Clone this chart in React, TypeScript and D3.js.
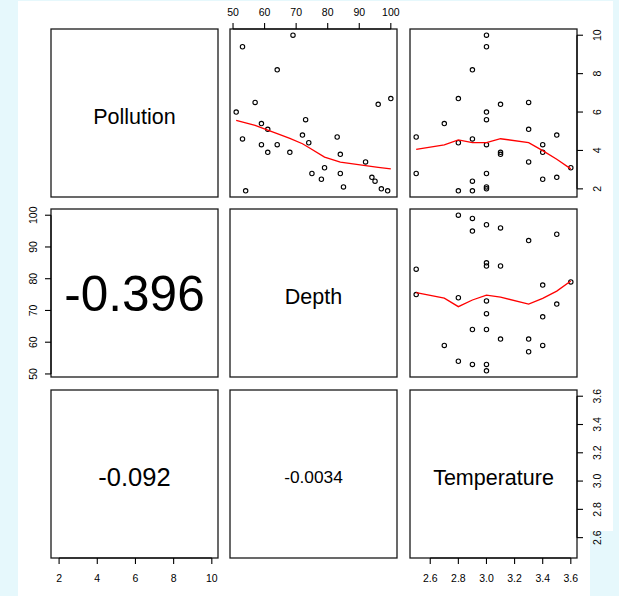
import React, { useRef, useEffect } from "react";
import * as d3 from "d3";

const variables = ["Pollution", "Depth", "Temperature"];
const pollution = [10.0, 9.4, 8.2, 6.5, 6.0, 6.4, 6.7, 5.6, 5.4, 5.1, 4.8, 4.7, 4.6, 4.4, 4.3, 4.3, 3.9, 3.9, 3.8, 3.4, 2.8, 2.8, 3.1, 2.5, 2.1, 2.6, 2.4, 2.0, 1.9, 1.9];
const depth = [69, 53, 64, 57, 51, 96, 100, 73, 59, 61, 72, 83, 53, 74, 59, 64, 61, 68, 84, 92, 75, 84, 79, 78, 85, 94, 95, 97, 99, 54];
const temperature = [3.0, 3.0, 2.9, 3.3, 3.0, 3.1, 2.8, 3.0, 2.7, 3.3, 3.5, 2.5, 2.9, 2.8, 3.4, 3.0, 3.1, 3.4, 3.1, 3.3, 2.5, 3.0, 3.6, 3.4, 3.0, 3.5, 2.9, 3.0, 2.9, 2.8];

// red smoother lines
const smoothDepthX = [51, 54, 57, 61, 64, 68, 72, 74, 79, 84, 92, 96, 100];
const smoothPollutionByDepth = [5.57, 5.44, 5.31, 5.06, 4.88, 4.63, 4.35, 4.15, 3.65, 3.39, 3.21, 3.12, 3.04];
const smoothTempX = [2.5, 2.7, 2.8, 2.9, 3.0, 3.1, 3.3, 3.4, 3.5, 3.6];
const smoothPollutionByTemp = [4.06, 4.29, 4.55, 4.41, 4.41, 4.61, 4.41, 3.99, 3.54, 3.04];
const smoothDepthByTemp = [75.6, 73.9, 71.2, 73.3, 74.8, 74.2, 72.0, 73.8, 76.1, 79.3];

// correlations shown in the lower panels
const corLabels = ["-0.396", "-0.092", "-0.0034"];
const corCells = [[1, 0], [2, 0], [2, 1]];
const corSizes = [49.5, 25.5, 17.3];

const pollutionTicks = [2, 4, 6, 8, 10];
const depthTicks = [50, 60, 70, 80, 90, 100];
const temperatureTicks = [2.6, 2.8, 3.0, 3.2, 3.4, 3.6];

const FONT = "'Liberation Sans', Arial, Helvetica, sans-serif";

export default function App() {
	const ref = useRef<SVGSVGElement>(null);

	useEffect(() => {
		const svg = d3.select(ref.current);
		svg.selectAll("*").remove();

		const data = [pollution, depth, temperature];
		const colX = [51, 230, 410];
		const rowY = [29, 209, 390];
		const pw = 167,
			ph = 168;

		const padded = (v: number[]) => {
			const [a, b] = d3.extent(v) as [number, number];
			const r = b - a;
			return [a - 0.04 * r, b + 0.04 * r];
		};
		const xs = data.map((v, j) =>
			d3.scaleLinear().domain(padded(v)).range([colX[j], colX[j] + pw])
		);
		const ys = data.map((v, i) =>
			d3.scaleLinear().domain(padded(v)).range([rowY[i] + ph, rowY[i]])
		);

		// background
		svg.append("rect").attr("width", 619).attr("height", 596).attr("fill", "#e6f8fc");
		svg.append("rect").attr("x", 18).attr("y", 1).attr("width", 595).attr("height", 530).attr("fill", "#fff");
		svg.append("rect").attr("x", 18).attr("y", 530).attr("width", 572).attr("height", 66).attr("fill", "#fff");

		const smooth: Record<string, [number[], number[]]> = {
			"0-1": [smoothDepthX, smoothPollutionByDepth],
			"0-2": [smoothTempX, smoothPollutionByTemp],
			"1-2": [smoothTempX, smoothDepthByTemp],
		};

		for (let i = 0; i < 3; i++) {
			for (let j = 0; j < 3; j++) {
				const g = svg.append("g");
				if (i < j) {
					g.selectAll("circle")
						.data(d3.range(data[0].length))
						.enter()
						.append("circle")
						.attr("cx", (k) => xs[j](data[j][k]))
						.attr("cy", (k) => ys[i](data[i][k]))
						.attr("r", 2.2)
						.attr("fill", "none")
						.attr("stroke", "#000")
						.attr("stroke-width", 1.1);
					const [sx, sy] = smooth[i + "-" + j];
					const line = d3
						.line<number>()
						.x((k) => xs[j](sx[k]))
						.y((k) => ys[i](sy[k]));
					g.append("path")
						.attr("d", line(d3.range(sx.length)))
						.attr("fill", "none")
						.attr("stroke", "#ff0000")
						.attr("stroke-width", 1.3);
				}
				if (i === j) {
					const fs = 21.5;
					g.append("text")
						.attr("x", colX[j] + pw / 2)
						.attr("y", rowY[i] + ph / 2 + fs * 0.358 + 3)
						.attr("text-anchor", "middle")
						.attr("font-family", FONT)
						.attr("font-size", fs)
						.text(variables[i]);
				}
				g.append("rect")
					.attr("x", colX[j])
					.attr("y", rowY[i])
					.attr("width", pw)
					.attr("height", ph)
					.attr("fill", "none")
					.attr("stroke", "#1a1a1a")
					.attr("stroke-width", 1.3);
			}
		}

		corLabels.forEach((txt, k) => {
			const [i, j] = corCells[k];
			const fs = corSizes[k];
			svg.append("text")
				.attr("x", colX[j] + pw / 2)
				.attr("y", rowY[i] + ph / 2 + fs * 0.358 + (k === 0 ? 0 : 3))
				.attr("text-anchor", "middle")
				.attr("font-family", FONT)
				.attr("font-size", fs)
				.text(txt);
		});

		const fmt = (v: number, t: number[]) => (t === temperatureTicks ? d3.format(".1f")(v) : String(v));
		const tickLen = 6;
		const axisG = svg.append("g").attr("font-family", FONT).attr("font-size", 10.5).attr("fill", "#000");

		// horizontal axes: [column, ticks, side]
		const hAxes: [number, number[], string][] = [
			[1, depthTicks, "top"],
			[0, pollutionTicks, "bottom"],
			[2, temperatureTicks, "bottom"],
		];
		hAxes.forEach(([j, ticks, side]) => {
			const y0 = side === "top" ? rowY[0] : rowY[2] + ph;
			const dir = side === "top" ? -1 : 1;
			axisG.append("line")
				.attr("x1", xs[j](ticks[0])).attr("x2", xs[j](ticks[ticks.length - 1]))
				.attr("y1", y0).attr("y2", y0)
				.attr("stroke", "#000").attr("stroke-width", 1.1);
			ticks.forEach((t) => {
				axisG.append("line")
					.attr("x1", xs[j](t)).attr("x2", xs[j](t))
					.attr("y1", y0).attr("y2", y0 + dir * tickLen)
					.attr("stroke", "#000").attr("stroke-width", 1.1);
				axisG.append("text")
					.attr("x", xs[j](t))
					.attr("y", side === "top" ? y0 - 13 : y0 + 24)
					.attr("text-anchor", "middle")
					.text(fmt(t, ticks));
			});
		});

		// vertical axes: [row, ticks, side]
		const vAxes: [number, number[], string][] = [
			[0, pollutionTicks, "right"],
			[1, depthTicks, "left"],
			[2, temperatureTicks, "right"],
		];
		vAxes.forEach(([i, ticks, side]) => {
			const x0 = side === "left" ? colX[0] : colX[2] + pw;
			const dir = side === "left" ? -1 : 1;
			axisG.append("line")
				.attr("y1", ys[i](ticks[0])).attr("y2", ys[i](ticks[ticks.length - 1]))
				.attr("x1", x0).attr("x2", x0)
				.attr("stroke", "#000").attr("stroke-width", 1.1);
			ticks.forEach((t) => {
				const y = ys[i](t);
				axisG.append("line")
					.attr("x1", x0).attr("x2", x0 + dir * tickLen)
					.attr("y1", y).attr("y2", y)
					.attr("stroke", "#000").attr("stroke-width", 1.1);
				const lx = side === "left" ? x0 - 14 : x0 + 24;
				axisG.append("text")
					.attr("transform", `translate(${lx},${y}) rotate(-90)`)
					.attr("text-anchor", "middle")
					.text(fmt(t, ticks));
			});
		});
	}, []);

	return (
		<div style={{ position: "fixed", left: 0, top: 0 }}>
			<svg ref={ref} width={619} height={596}></svg>
		</div>
	);
}
